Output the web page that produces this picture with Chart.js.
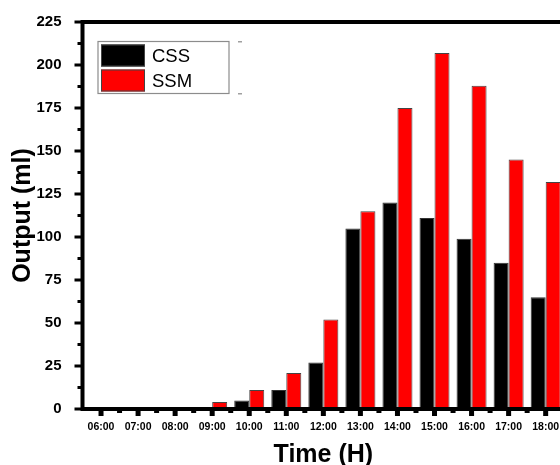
<!DOCTYPE html>
<html>
<head>
<meta charset="utf-8">
<script src="https://cdn.jsdelivr.net/npm/chart.js@4/dist/chart.umd.min.js"></script>
<style>
  html, body { margin: 0; padding: 0; background: #fff; }
  #wrap { width: 560px; height: 465px; overflow: hidden; position: relative; }
  #outputChart { position: absolute; left: 0; top: 0; }
</style>
</head>
<body>
<div id="wrap">
  <canvas id="outputChart" width="590" height="475"></canvas>
</div>
<script>
// hourly output
const hours = ['06:00', '07:00', '08:00', '09:00', '10:00', '11:00', '12:00',
               '13:00', '14:00', '15:00', '16:00', '17:00', '18:00'];
const cssOutput = [0, 0, 0, 0, 5, 11, 27, 105, 120, 111, 99, 85, 65];
const ssmOutput = [0, 0, 0, 4, 11, 21, 52, 115, 175, 207, 188, 145, 132];
const seriesNames = ['CSS', 'SSM'];
const seriesColors = ['#000000', '#ff0000'];
const yTicks = [0, 25, 50, 75, 100, 125, 150, 175, 200, 225];

const FONT = '"Liberation Sans", Arial, sans-serif';

// axes frame, ticks (major + minor) and the boxed legend
const framePlugin = {
    id: 'frame',
    afterDatasetsDraw(chart) {
        const ctx = chart.ctx;
        const area = chart.chartArea;
        const x = chart.scales.x;
        const y = chart.scales.y;
        ctx.save();
        ctx.strokeStyle = '#000';
        ctx.fillStyle = '#000';

        // y ticks
        yTicks.forEach(v => {
            const py = y.getPixelForValue(v);
            ctx.fillRect(area.left - 8, py - 1.5, 8, 3);
        });
        for (let i = 0; i < yTicks.length - 1; i++) {
            const py = y.getPixelForValue((yTicks[i] + yTicks[i + 1]) / 2);
            ctx.fillRect(area.left - 5, py - 1.5, 5, 3);
        }
        // x ticks
        hours.forEach((h, i) => {
            const px = x.getPixelForValue(i);
            ctx.fillRect(px - 2.5, area.bottom, 5, 7);
            const bx = px + (x.getPixelForValue(1) - x.getPixelForValue(0)) / 2;
            ctx.fillRect(bx - 2.5, area.bottom, 5, 4);
        });

        // frame lines
        ctx.lineWidth = 4;
        ctx.beginPath();
        ctx.moveTo(area.left, area.bottom);
        ctx.lineTo(area.left, area.top);
        ctx.lineTo(area.right, area.top);
        ctx.lineTo(area.right, area.bottom);
        ctx.closePath();
        ctx.stroke();

        // legend box
        const lx = area.left + 15.5, ly = area.top + 19.5;
        const lw = 131, lh = 52;
        ctx.lineWidth = 1.2;
        ctx.strokeStyle = '#8c8c8c';
        ctx.strokeRect(lx, ly, lw, lh);
        ctx.fillStyle = '#a0a0a0';
        ctx.fillRect(lx + 140, ly - 0.5, 4, 1.5);
        ctx.fillRect(lx + 140, ly + lh - 0.5, 4, 1.5);

        seriesNames.forEach((name, i) => {
            const sy = ly + 3 + i * 25;
            ctx.fillStyle = seriesColors[i];
            ctx.fillRect(lx + 3, sy, 44, 22);
            ctx.strokeStyle = '#444';
            ctx.lineWidth = 1;
            ctx.strokeRect(lx + 3.5, sy + 0.5, 43, 21);
            ctx.fillStyle = '#000';
            ctx.font = '18.5px ' + FONT;
            ctx.textBaseline = 'middle';
            ctx.textAlign = 'left';
            ctx.fillText(name, lx + 54, sy + 12);
        });
        ctx.restore();
    }
};

const ctx = document.getElementById('outputChart').getContext('2d');
new Chart(ctx, {
    type: 'bar',
    data: {
        labels: hours,
        datasets: [
            {
                label: seriesNames[0],
                data: cssOutput,
                backgroundColor: seriesColors[0],
                borderColor: '#333',
                borderWidth: 1
            },
            {
                label: seriesNames[1],
                data: ssmOutput,
                backgroundColor: seriesColors[1],
                borderColor: '#444',
                borderWidth: 1
            }
        ]
    },
    options: {
        responsive: false,
        animation: false,
        devicePixelRatio: 1,
        layout: { padding: { left: 0, top: 22, right: 25.8, bottom: 0 } },
        datasets: {
            bar: { categoryPercentage: 0.81, barPercentage: 1.0 }
        },
        plugins: {
            legend: { display: false },
            tooltip: { enabled: false }
        },
        scales: {
            x: {
                grid: { display: false },
                border: { display: false },
                ticks: {
                    color: '#000',
                    padding: 4,
                    maxRotation: 0,
                    autoSkip: false,
                    font: { family: FONT, size: 10.5, weight: 'bold' }
                },
                title: {
                    display: true,
                    text: 'Time (H)',
                    color: '#000',
                    padding: { top: 0, bottom: 4.5 },
                    font: { family: FONT, size: 25, weight: 'bold', lineHeight: 1.2 }
                },
                afterFit(scale) { scale.height = 66; }
            },
            y: {
                min: 0,
                max: 225,
                grid: { display: false },
                border: { display: false },
                ticks: {
                    stepSize: 25,
                    color: '#000',
                    padding: 13,
                    font: { family: FONT, size: 15, weight: 'bold' }
                },
                title: {
                    display: true,
                    text: 'Output (ml)',
                    color: '#000',
                    padding: { top: 8, bottom: 0 },
                    font: { family: FONT, size: 25, weight: 'bold', lineHeight: 1.2 }
                },
                afterFit(scale) { scale.width = 82.5; }
            }
        }
    },
    plugins: [framePlugin]
});
</script>
</body>
</html>
